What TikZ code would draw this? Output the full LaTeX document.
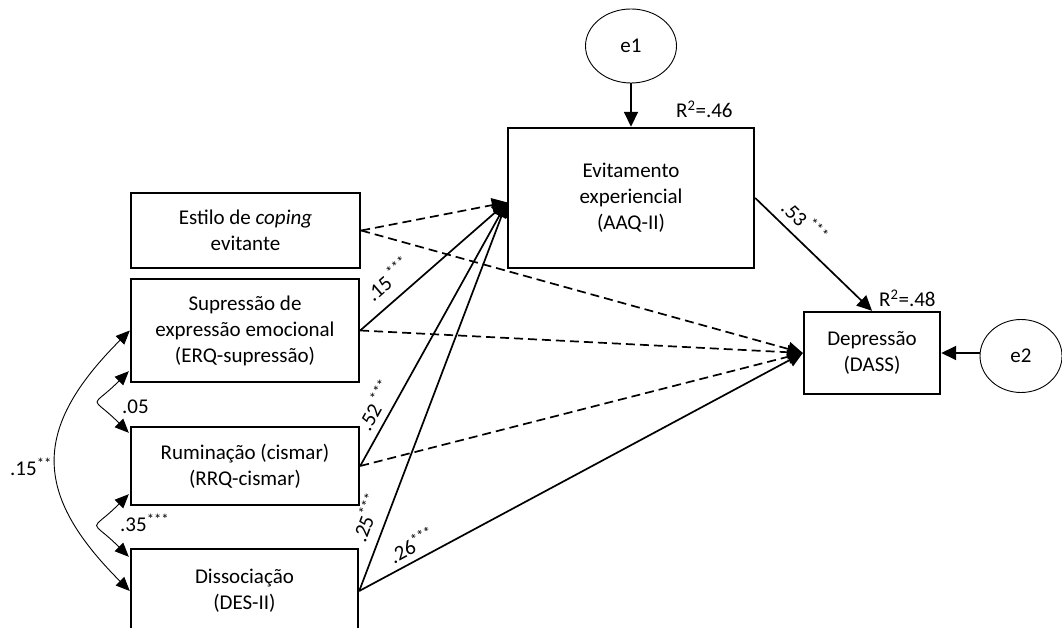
\documentclass[tikz,border=0pt]{standalone}
\usepackage{fontspec}
\setmainfont{Carlito}
\usetikzlibrary{arrows.meta,calc,shapes.geometric}

\begin{document}
\begin{tikzpicture}[x=1pt,y=-1pt,
  every node/.style={font=\fontsize{21}{26}\selectfont},
  varbox/.style={draw, rectangle, line width=2.4pt, align=center, inner sep=0pt},
  errnode/.style={draw, ellipse, line width=0.9pt, inner sep=0pt},
  arrowtip/.style={-{Triangle[length=15pt,width=14pt]}},
  sigpath/.style={line width=1.7pt, arrowtip},
  nspath/.style={sigpath, dash pattern=on 9pt off 5pt},
  cov/.style={line width=0.9pt,
    {Triangle[length=14pt,width=12pt]}-{Triangle[length=14pt,width=12pt]},
    out=225, in=135},
  coef/.style={sloped, inner sep=1pt},
  plainlabel/.style={inner sep=0pt},
]
\useasboundingbox (0,0) rectangle (1062,628);
\clip (0,0) rectangle (1062,628);

% observed variables
\node[varbox, minimum width=229pt, minimum height=75pt]  (estilo) at (245.5,230.5) {Estilo de \textit{coping}\\evitante};
\node[varbox, minimum width=228pt, minimum height=103pt] (supr)   at (245,330.5)   {Supressão de\\expressão emocional\\(ERQ-supressão)};
\node[varbox, minimum width=228pt, minimum height=78pt]  (rumin)  at (245,466)     {Ruminação (cismar)\\(RRQ-cismar)};
\node[varbox, minimum width=227pt, minimum height=84pt]  (dissoc) at (244.5,591)   {Dissociação\\(DES-II)};
\node[varbox, minimum width=246pt, minimum height=140pt] (evit)   at (631,198)     {Evitamento\\experiencial\\(AAQ-II)};
\node[varbox, minimum width=136pt, minimum height=82pt]  (dep)    at (872,353)     {Depressão\\(DASS)};

% error terms
\node[errnode, minimum width=91pt, minimum height=74pt] (e1) at (631,46)  {e1};
\node[errnode, minimum width=82pt, minimum height=73pt] (e2) at (1021,356) {e2};

% explained variance
\node[plainlabel, anchor=base west] (r1) at ($(evit.north)+(45,-9)$) {R\textsuperscript{2}=.46};
\node[plainlabel, anchor=base west] (r2) at ($(dep.north)+(7,-4)$)   {R\textsuperscript{2}=.48};

% common entry point on the mediator
\coordinate (ein) at ($(evit.north west)!0.53!(evit.south west)$);

% paths to the mediator
\draw[nspath]  (estilo.east) -- (ein);
\draw[sigpath] (supr.east)   -- node[coef, above=10pt, pos=0.28] {.15\,\textsuperscript{***}} (ein);
\draw[sigpath] (rumin.east)  -- node[coef, above=6pt,  pos=0.2]  {.52\,\textsuperscript{***}} (ein);
\draw[sigpath] (dissoc.east) -- node[coef, above=9pt,  pos=0.17] {.25\textsuperscript{***}} (ein);

% paths to the outcome
\draw[nspath]  (estilo.east) -- (dep.west);
\draw[nspath]  (supr.east)   -- (dep.west);
\draw[nspath]  (rumin.east)  -- (dep.west);
\draw[sigpath] (dissoc.east) -- node[coef, above=5pt, pos=0.135] {.26\textsuperscript{***}} (dep.west);
\draw[sigpath] (evit.east)   -- node[coef, above=7pt, pos=0.32]  {.53\,\textsuperscript{***}} (dep.north);

% error paths
\draw[sigpath] (e1) -- (evit.north);
\draw[sigpath] (e2.west |- dep.east) -- (dep.east);

% covariances among predictors
\draw[cov, looseness=2.3] ($(supr.south west)+(-1,-12)$) to ($(rumin.north west)+(-1,7)$);
\draw[cov, looseness=2.3] ($(rumin.south west)+(-1,-12)$) to ($(dissoc.north west)+(-1,9)$);
\draw[cov, looseness=1.36] (supr.west) to (dissoc.west);

\node[plainlabel, anchor=west] (c05) at (122,407) {.05};
\node[plainlabel, anchor=west] (c35) at (120,523) {.35\textsuperscript{***}};
\node[plainlabel, anchor=west] (c15) at (10,467)  {.15\textsuperscript{**}};
\end{tikzpicture}
\end{document}
